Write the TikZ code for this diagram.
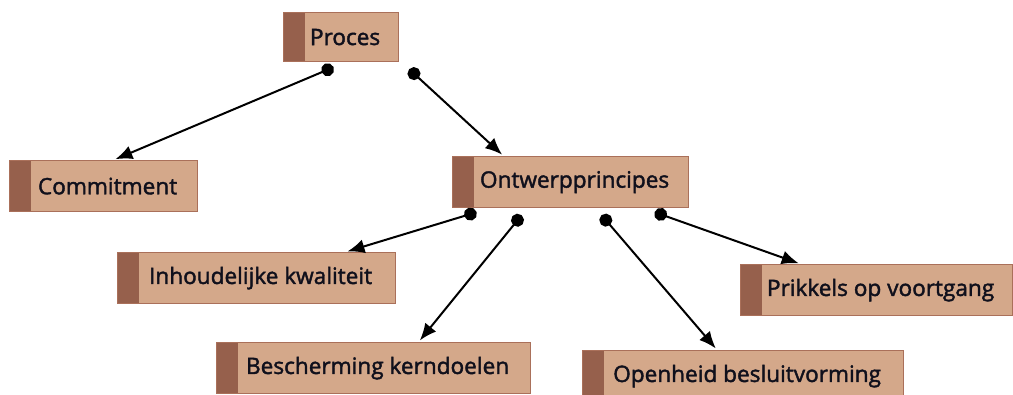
\documentclass[tikz,border=0pt]{standalone}
\usepackage{fontspec}
\setmainfont{Open Sans}
\newfontfamily\boxfont{Open Sans}[FakeBold=1.8]
\usetikzlibrary{arrows.meta,calc,positioning}
\definecolor{boxfill}{RGB}{212,168,138}
\definecolor{boxstripe}{RGB}{150,96,76}
\definecolor{boxline}{RGB}{170,112,90}
\definecolor{txt}{RGB}{16,16,28}
\tikzset{
  box/.style={draw=boxline, line width=1.2pt, fill=boxfill, anchor=north west,
    minimum height=51pt, inner sep=0pt, text=txt,
    font=\boxfont\fontsize{22.6}{26}\selectfont,
    path picture={\fill[boxstripe] (path picture bounding box.north west) rectangle ([xshift=21pt]path picture bounding box.south west);}},
  conn/.style={line width=2pt, {Circle[length=13pt]}-{Latex[length=17pt,width=14pt]}, shorten >=2pt}
}
\newcommand{\bx}[1]{\hspace*{8pt}#1}
\begin{document}
\begin{tikzpicture}[x=1pt,y=-1pt]
\useasboundingbox (0,0) rectangle (1013,395);
\node[box, minimum width=115pt, minimum height=49pt] (proces) at (283,12) {\bx{Proces}};
\node[box, minimum width=188pt] (commit) at (9,160) {\bx{Commitment}};
\node[box, minimum width=236pt] (ontw) at (452,156) {\bx{Ontwerpprincipes}};
\node[box, minimum width=278pt] (inh) at (117,252) {\bx{Inhoudelijke kwaliteit}};
\node[box, minimum width=272pt] (prik) at (740,264) {\bx{Prikkels op voortgang}};
\node[box, minimum width=314pt] (besch) at (216,342) {\bx{Bescherming kerndoelen}};
\node[box, minimum width=321pt] (open) at (582,350) {\bx{Openheid besluitvorming}};
\coordinate (p1) at ($(proces.south)+(-7.5,5)$);
\coordinate (p2) at ($(proces.south east)+(10,7)$);
\coordinate (o1) at ($(ontw.south)+(-94,4)$);
\coordinate (o2) at ($(ontw.south)+(-49,7)$);
\coordinate (o3) at ($(ontw.south)+(31,7)$);
\coordinate (o4) at ($(ontw.south)+(84,4)$);
\draw[conn] (p1) -- ($(commit.north)+(10,0)$);
\draw[conn] (p2) -- ($(ontw.north)+(-67,0)$);
\draw[conn] (o1) -- ($(inh.north)+(89,0)$);
\draw[conn] (o2) -- ($(besch.north)+(45,0)$);
\draw[conn] (o3) -- ($(open.north)+(-26,0)$);
\draw[conn] (o4) -- ($(prik.north)+(-76,0)$);
\end{tikzpicture}
\end{document}
